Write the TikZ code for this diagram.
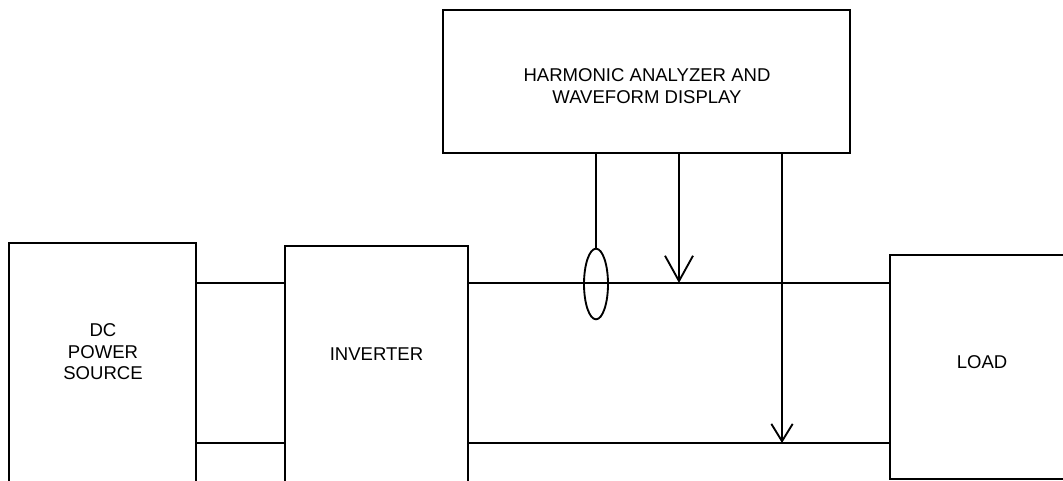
\documentclass[tikz,border=0pt]{standalone}
\usepackage{fontspec}
\setmainfont{Liberation Sans}
\usetikzlibrary{arrows.meta,positioning,shapes.geometric,fit}

\begin{document}
\begin{tikzpicture}[x=0.75pt, y=-0.75pt, line width=1.4pt, every node/.style={inner sep=0pt}]
        \tikzset{
            blk/.style={draw, inner sep=0pt},
            lbl/.style={align=center, font=\fontsize{13.9}{16.2}\selectfont},
            probe/.style={-{Straight Barb[length=19pt, width=21pt, line width=1.4pt]}},
            probes/.style={-{Straight Barb[length=13pt, width=16pt, line width=1.4pt]}}
        }
        \useasboundingbox (0,0) rectangle (1063,481);
        \clip (0,0) rectangle (1063,481);
        % boxes
        \node[blk, fit={(9,243) (196,540)}] (dc) {};
        \node[blk, fit={(285,246) (468,540)}] (inv) {};
        \node[blk, fit={(890,255) (1090,479)}] (load) {};
        \node[blk, fit={(443,10) (850,153)}] (harm) {};
        \node[lbl] (dctxt) at (103,352) {DC\\POWER\\SOURCE};
        \node[lbl] (invtxt) at (376.5,354) {INVERTER};
        \node[lbl] (loadtxt) at (982,362.5) {LOAD};
        \node[lbl] (harmtxt) at (647,86) {HARMONIC ANALYZER AND\\WAVEFORM DISPLAY};
        % wires
        \coordinate (top) at (0,283);
        \coordinate (bot) at (0,443);
        \draw (dc.east |- top) -- (inv.west |- top);
        \draw (dc.east |- bot) -- (inv.west |- bot);
        \draw (inv.east |- top) -- (load.west |- top);
        \draw (inv.east |- bot) -- (load.west |- bot);
        % current probe and voltage taps
        \node[draw, ellipse, minimum width=18pt, minimum height=53pt] (ct) at (596,284) {};
        \coordinate (va) at (679,283);
        \coordinate (vb) at (782,443);
        \draw (harm.south -| ct) -- (ct.north);
        \draw[probe] (harm.south -| va) -- (va);
        \draw[probes] (harm.south -| vb) -- (vb);
    \end{tikzpicture}
\end{document}
